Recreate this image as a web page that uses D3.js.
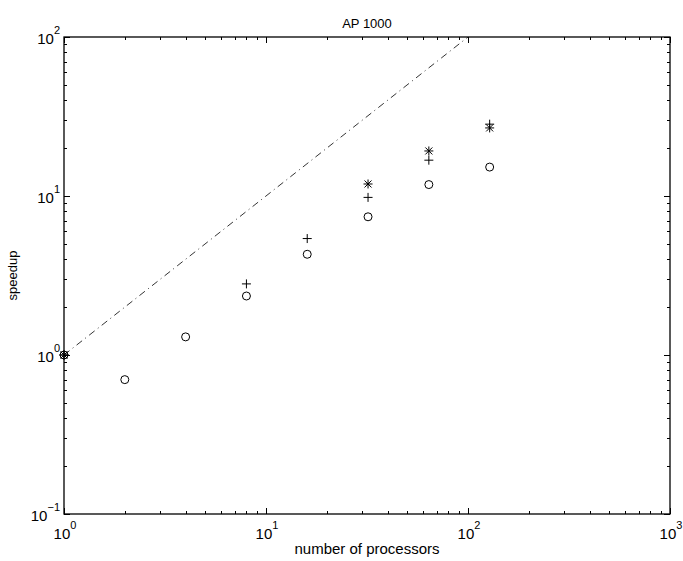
<!DOCTYPE html>
<html lang="en">
<head>
    <meta charset="UTF-8">
    <title>AP 1000</title>
    <script src="https://d3js.org/d3.v7.min.js"></script>
    <style>
        body { margin: 0; background: #fff; font-family: "Liberation Sans", Arial, sans-serif; }
        text { fill: #000; }
    </style>
</head>
<body>
    <svg id="chart" width="683" height="561"></svg>
    <script>
        // Data
        const title = "AP 1000";
        const xLabel = "number of processors";
        const yLabel = "speedup";

        const circleProcs = [1, 2, 4, 8, 16, 32, 64, 128];
        const circleSpeedup = [1.0, 0.70, 1.30, 2.35, 4.3, 7.4, 11.8, 15.2];

        const plusProcs = [1, 8, 16, 32, 64, 128];
        const plusSpeedup = [1.0, 2.8, 5.4, 9.8, 16.8, 28.3];

        const starProcs = [1, 32, 64, 128];
        const starSpeedup = [1.0, 11.9, 19.2, 26.8];

        const idealProcs = [1, 1000];
        const idealSpeedup = [1, 1000];

        const xTickExps = [0, 1, 2, 3];
        const yTickExps = [-1, 0, 1, 2];

        const width = 683, height = 561;
        const margin = { left: 64, right: 13, top: 37, bottom: 47 };

        const svg = d3.select("#chart");

        const x = d3.scaleLog().domain([1, 1000]).range([margin.left, width - margin.right]);
        const y = d3.scaleLog().domain([0.1, 100]).range([height - margin.bottom, margin.top]);

        const x0 = x.range()[0], x1 = x.range()[1];
        const y0 = y.range()[0], y1 = y.range()[1];

        // clip for the ideal line only
        svg.append("clipPath").attr("id", "clip")
            .append("rect").attr("x", x0).attr("y", y1)
            .attr("width", x1 - x0).attr("height", y0 - y1);

        // Ticks (inward, all four sides)
        const minorX = [], minorY = [];
        for (let e = 0; e < 3; e++) for (let m = 2; m <= 9; m++) minorX.push(m * Math.pow(10, e));
        for (let e = -1; e < 2; e++) for (let m = 2; m <= 9; m++) minorY.push(m * Math.pow(10, e));
        const majorX = xTickExps.map(e => Math.pow(10, e));
        const majorY = yTickExps.map(e => Math.pow(10, e));

        const ticks = svg.append("g").attr("stroke", "#000").attr("stroke-width", 1);
        function xTicks(vals, len) {
            vals.forEach(v => {
                const px = Math.round(x(v)) + 0.5;
                ticks.append("line").attr("x1", px).attr("x2", px).attr("y1", y0).attr("y2", y0 - len);
                ticks.append("line").attr("x1", px).attr("x2", px).attr("y1", y1).attr("y2", y1 + len);
            });
        }
        function yTicks(vals, len) {
            vals.forEach(v => {
                const py = Math.round(y(v)) + 0.5;
                ticks.append("line").attr("y1", py).attr("y2", py).attr("x1", x0).attr("x2", x0 + len);
                ticks.append("line").attr("y1", py).attr("y2", py).attr("x1", x1).attr("x2", x1 - len);
            });
        }
        xTicks(minorX, 3);
        xTicks(majorX, 6);
        yTicks(minorY, 3);
        yTicks(majorY, 6);

        // Box
        svg.append("rect")
            .attr("x", x0).attr("y", y1)
            .attr("width", x1 - x0).attr("height", y0 - y1)
            .attr("fill", "none").attr("stroke", "#000").attr("stroke-width", 1.3);

        // Tick labels
        xTickExps.forEach(e => {
            const t = svg.append("text")
                .attr("x", x(Math.pow(10, e)) + 1).attr("y", y0 + 25)
                .attr("text-anchor", "middle").attr("font-size", 15);
            t.append("tspan").text("10");
            t.append("tspan").attr("dy", -10).attr("font-size", 11).text(e);
        });
        yTickExps.forEach(e => {
            const t = svg.append("text")
                .attr("x", x0 - 4).attr("y", y(Math.pow(10, e)) + 7)
                .attr("text-anchor", "end").attr("font-size", 15);
            t.append("tspan").text("10");
            t.append("tspan").attr("dy", -10).attr("font-size", 11).text(e < 0 ? "\u2212" + Math.abs(e) : e);
        });

        // Labels
        svg.append("text").attr("x", (x0 + x1) / 2).attr("y", 28)
            .attr("text-anchor", "middle").attr("font-size", 13).text(title);
        svg.append("text").attr("x", (x0 + x1) / 2).attr("y", 554)
            .attr("text-anchor", "middle").attr("font-size", 15).text(xLabel);
        svg.append("text")
            .attr("transform", `translate(17,${(y0 + y1) / 2}) rotate(-90)`)
            .attr("text-anchor", "middle").attr("font-size", 13).text(yLabel);

        // Ideal speedup line (dash-dot)
        svg.append("path")
            .attr("clip-path", "url(#clip)")
            .datum(idealProcs.map((p, i) => [p, idealSpeedup[i]]))
            .attr("d", d3.line().x(d => x(d[0])).y(d => y(d[1])))
            .attr("fill", "none").attr("stroke", "#000").attr("stroke-width", 0.8)
            .attr("stroke-dasharray", "7,4,1,4");

        const plot = svg.append("g");

        // Circles
        plot.selectAll(".circ")
            .data(circleProcs.map((p, i) => [p, circleSpeedup[i]]))
            .enter().append("circle")
            .attr("cx", d => x(d[0])).attr("cy", d => y(d[1])).attr("r", 4)
            .attr("fill", "none").attr("stroke", "#000").attr("stroke-width", 1);

        // Plus and star markers
        function drawPlus(px, py, s) {
            plot.append("path")
                .attr("d", `M${px - s},${py}H${px + s}M${px},${py - s}V${py + s}`)
                .attr("stroke", "#000").attr("stroke-width", 1).attr("fill", "none");
        }
        function drawX(px, py, s) {
            plot.append("path")
                .attr("d", `M${px - s},${py - s}L${px + s},${py + s}M${px - s},${py + s}L${px + s},${py - s}`)
                .attr("stroke", "#000").attr("stroke-width", 1).attr("fill", "none");
        }
        plusProcs.forEach((p, i) => drawPlus(x(p), y(plusSpeedup[i]), 4.5));
        starProcs.forEach((p, i) => {
            drawPlus(x(p), y(starSpeedup[i]), 4.5);
            drawX(x(p), y(starSpeedup[i]), 3.5);
        });
    </script>
</body>
</html>
